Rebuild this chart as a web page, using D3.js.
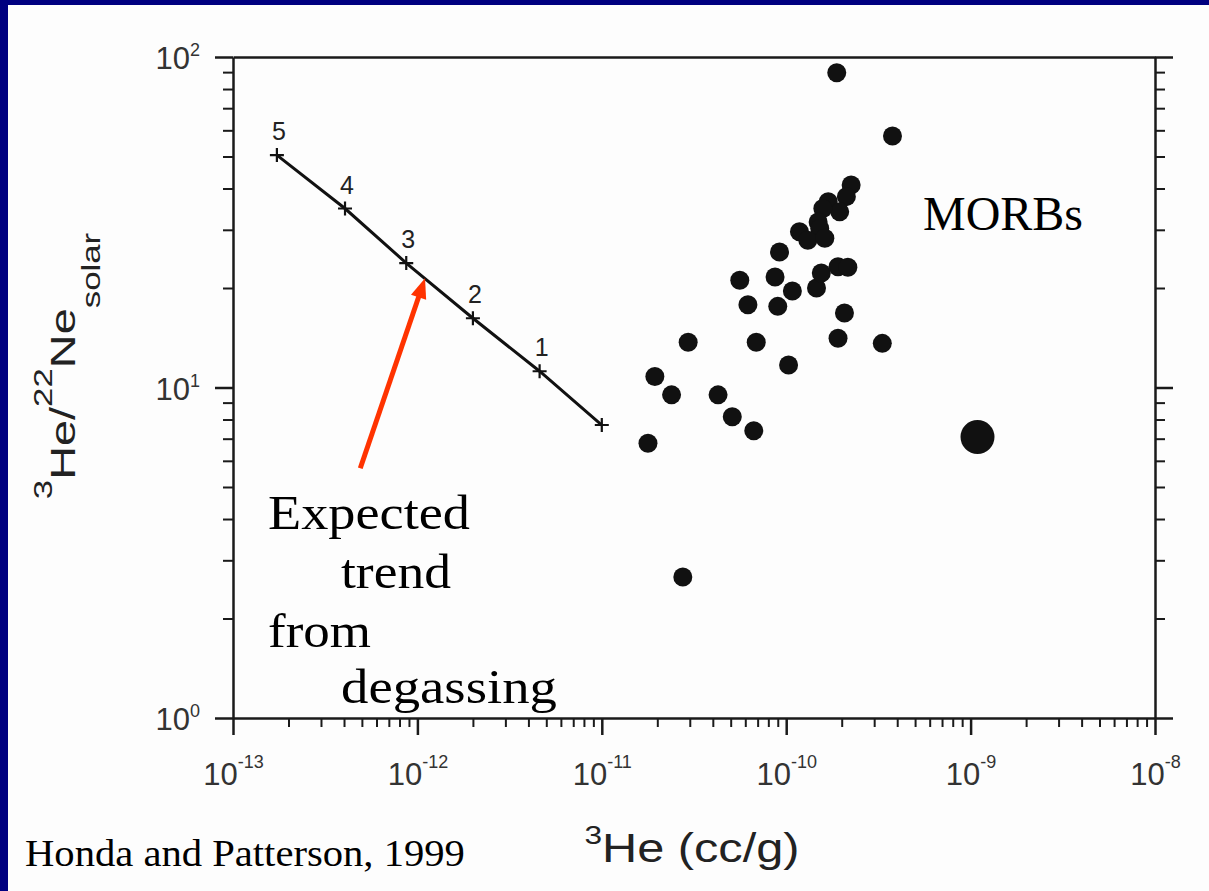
<!DOCTYPE html>
<html>
<head>
<meta charset="utf-8">
<script src="https://cdn.jsdelivr.net/npm/d3@7"></script>
<style>
  body { margin: 0; background: #000080; }
  svg { display: block; }
</style>
</head>
<body>
<div class="container"></div>
<script>
// 数据
var he3Ticks = [1e-13, 1e-12, 1e-11, 1e-10, 1e-9, 1e-8];
var he3TickExp = ["-13", "-12", "-11", "-10", "-9", "-8"];
var ratioTicks = [1, 10, 100];
var ratioTickExp = ["0", "1", "2"];

// degassing trend, steps 5 -> 1 and the end point
var degasHe3 = [1.73e-13, 4.05e-13, 8.7e-13, 2.0e-12, 4.6e-12, 1.0e-11];
var degasRatio = [50.5, 34.8, 23.8, 16.2, 11.2, 7.7];
var degasStep = ["5", "4", "3", "2", "1", ""];

// MORB samples
var morbHe3 = [1.88e-10, 3.77e-10, 2.25e-10, 2.12e-10, 1.69e-10, 1.95e-10, 1.58e-10, 1.49e-10, 1.52e-10, 1.18e-10,
               1.31e-10, 1.62e-10, 9.2e-11, 5.6e-11, 8.7e-11, 1.08e-10, 1.46e-10, 1.55e-10, 1.91e-10, 2.16e-10,
               6.2e-11, 9.0e-11, 2.07e-10, 2.94e-11, 6.88e-11, 1.91e-10, 3.32e-10, 1.03e-10, 1.94e-11, 2.39e-11,
               4.27e-11, 5.1e-11, 6.67e-11, 1.78e-11, 2.75e-11];
var morbRatio = [89.6, 57.7, 41.0, 37.8, 36.5, 34.0, 34.8, 31.7, 30.3, 29.6,
                 27.9, 28.3, 25.7, 21.1, 21.6, 19.6, 20.0, 22.2, 23.2, 23.1,
                 17.8, 17.6, 16.8, 13.7, 13.7, 14.1, 13.6, 11.7, 10.8, 9.5,
                 9.5, 8.16, 7.4, 6.78, 2.67];
var bigHe3 = [1.09e-9];
var bigRatio = [7.08];

// arrow (tail, tip)
var arrowHe3 = [4.9e-13, 1.1e-12];
var arrowRatio = [5.7, 21.4];

var noteLines = ["Expected", "trend", "from", "degassing"];
var groupLabel = "MORBs";
var sourceLabel = "Honda and Patterson, 1999";

// 画布
var W = 1209, H = 891;
var svg = d3.select(".container").append("svg")
  .attr("width", W).attr("height", H);

svg.append("rect").attr("width", W).attr("height", H).attr("fill", "#000080");
svg.append("rect").attr("x", 8).attr("y", 5).attr("width", W - 8).attr("height", H - 5).attr("fill", "#fdfdfd");

var x = d3.scaleLog().domain([1e-13, 1e-8]).range([233, 1155]);
var y = d3.scaleLog().domain([1, 100]).range([718, 57]);

function isMajor(v) { var l = Math.log10(v); return Math.abs(l - Math.round(l)) < 1e-6; }

var sans = "'Liberation Sans', Arial, Helvetica, sans-serif";
var serif = "'Liberation Serif', 'Times New Roman', serif";

function styleAxis(g) {
  g.attr("font-family", sans).attr("font-size", 31);
  g.select(".domain").attr("stroke", "#1a1a1a").attr("stroke-width", 2.5);
  g.selectAll(".tick line").attr("stroke", "#1a1a1a").attr("stroke-width", function(d) { return isMajor(d) ? 2.5 : 2; });
}

// 坐标轴
var gBottom = svg.append("g").attr("transform", "translate(0,718)")
  .call(d3.axisBottom(x).tickValues(x.ticks()).tickFormat("").tickSizeOuter(0));
gBottom.selectAll(".tick line").attr("y2", function(d) { return isMajor(d) ? 17 : 9; });
styleAxis(gBottom);

var gLeft = svg.append("g").attr("transform", "translate(233,0)")
  .call(d3.axisLeft(y).tickValues(y.ticks()).tickFormat("").tickSizeOuter(0));
gLeft.selectAll(".tick line").attr("x2", function(d) { return isMajor(d) ? -18 : -10; });
styleAxis(gLeft);

var gRight = svg.append("g").attr("transform", "translate(1155,0)")
  .call(d3.axisRight(y).tickValues(y.ticks()).tickFormat("").tickSizeOuter(0));
gRight.selectAll(".tick line").attr("x2", function(d) { return isMajor(d) ? 18 : 10; });
styleAxis(gRight);

var gTop = svg.append("g").attr("transform", "translate(0,57)")
  .call(d3.axisTop(x).tickValues([]).tickSizeOuter(0));
styleAxis(gTop);

// 刻度标签 (10 with exponent)
gBottom.selectAll(".tick").filter(isMajor).select("text")
  .attr("y", 67).attr("dy", null).attr("fill", "#333").attr("text-anchor", "middle")
  .each(function(d) {
    var t = d3.select(this).text(null);
    t.append("tspan").text("10");
    t.append("tspan").attr("font-size", 18).attr("dy", -17).text(he3TickExp[he3Ticks.findIndex(function(v) { return Math.abs(v - d) / d < 1e-6; })]);
  });

gLeft.selectAll(".tick").filter(isMajor).select("text")
  .attr("x", -33).attr("dy", "0.38em").attr("fill", "#333").attr("text-anchor", "end")
  .each(function(d) {
    var t = d3.select(this).text(null);
    t.append("tspan").text("10");
    t.append("tspan").attr("font-size", 18).attr("dy", -13).text(ratioTickExp[ratioTicks.indexOf(d)]);
  });

// 拉伸文字到目标宽度
function fitWidth(text, target) {
  var w = text.node().getBBox().width;
  return target / w;
}

// 轴标题
var yt = svg.append("g");
var ytText = yt.append("text").attr("font-family", sans).attr("font-size", 35).attr("fill", "#222")
  .attr("text-anchor", "middle");
ytText.append("tspan").attr("font-size", 26).attr("dy", -23).text("3");
ytText.append("tspan").attr("dy", 23).text("He/");
ytText.append("tspan").attr("font-size", 26).attr("dy", -23).text("22");
ytText.append("tspan").attr("dy", 23).text("Ne");
ytText.append("tspan").attr("font-size", 26).attr("dy", 25).text("solar");
yt.attr("transform", "translate(75,366) rotate(-90) scale(" + fitWidth(ytText, 267) + ",1)");

var xt = svg.append("g");
var xtText = xt.append("text").attr("font-family", sans).attr("font-size", 40).attr("fill", "#222")
  .attr("text-anchor", "middle");
xtText.append("tspan").attr("font-size", 26).attr("dy", -18).text("3");
xtText.append("tspan").attr("dy", 18).text("He (cc/g)");
xt.attr("transform", "translate(692,862) scale(" + fitWidth(xtText, 215) + ",1)");

// 脱气趋势线
var degas = d3.zip(degasHe3, degasRatio);
var line = d3.line().x(function(d) { return x(d[0]); }).y(function(d) { return y(d[1]); });
svg.append("path").datum(degas).attr("d", line)
  .attr("fill", "none").attr("stroke", "#111").attr("stroke-width", 3);

var marks = svg.append("g").selectAll("g").data(degas).enter().append("g")
  .attr("transform", function(d) { return "translate(" + x(d[0]) + "," + y(d[1]) + ")"; });
marks.append("path").attr("d", "M-7,0H7M0,-7V7").attr("stroke", "#111").attr("stroke-width", 2.2);
marks.append("text").attr("x", 2).attr("y", -15).attr("text-anchor", "middle")
  .attr("font-family", sans).attr("font-size", 25).attr("fill", "#222")
  .text(function(d, i) { return degasStep[i]; });

// MORB 点
svg.append("g").selectAll("circle").data(d3.zip(morbHe3, morbRatio)).enter().append("circle")
  .attr("cx", function(d) { return x(d[0]); })
  .attr("cy", function(d) { return y(d[1]); })
  .attr("r", 9.5).attr("fill", "#111");

svg.append("g").selectAll("circle").data(d3.zip(bigHe3, bigRatio)).enter().append("circle")
  .attr("cx", function(d) { return x(d[0]); })
  .attr("cy", function(d) { return y(d[1]); })
  .attr("r", 17).attr("fill", "#111");

// 红色箭头
var ax0 = x(arrowHe3[0]), ay0 = y(arrowRatio[0]), ax1 = x(arrowHe3[1]), ay1 = y(arrowRatio[1]);
var len = Math.hypot(ax1 - ax0, ay1 - ay0), ux = (ax1 - ax0) / len, uy = (ay1 - ay0) / len;
svg.append("line").attr("x1", ax0).attr("y1", ay0)
  .attr("x2", ax1 - ux * 14).attr("y2", ay1 - uy * 14)
  .attr("stroke", "#ff3300").attr("stroke-width", 5);
svg.append("path")
  .attr("d", "M" + ax1 + "," + ay1 +
    "L" + (ax1 - ux * 20 - uy * 8) + "," + (ay1 - uy * 20 + ux * 8) +
    "L" + (ax1 - ux * 20 + uy * 8) + "," + (ay1 - uy * 20 - ux * 8) + "Z")
  .attr("fill", "#ff3300");

// 文字注释
function note(str, px, py, size, target, family) {
  var g = svg.append("g");
  var t = g.append("text").attr("font-family", family).attr("font-size", size).attr("fill", "#000").text(str);
  g.attr("transform", "translate(" + px + "," + py + ") scale(" + fitWidth(t, target) + ",1)");
}
note(noteLines[0], 268, 529, 48, 202, serif);
note(noteLines[1], 341, 588, 48, 110, serif);
note(noteLines[2], 268, 647, 48, 103, serif);
note(noteLines[3], 341, 703, 48, 216, serif);
note(groupLabel, 923, 230, 48, 160, serif);
note(sourceLabel, 25, 866, 37, 440, serif);
</script>
</body>
</html>
